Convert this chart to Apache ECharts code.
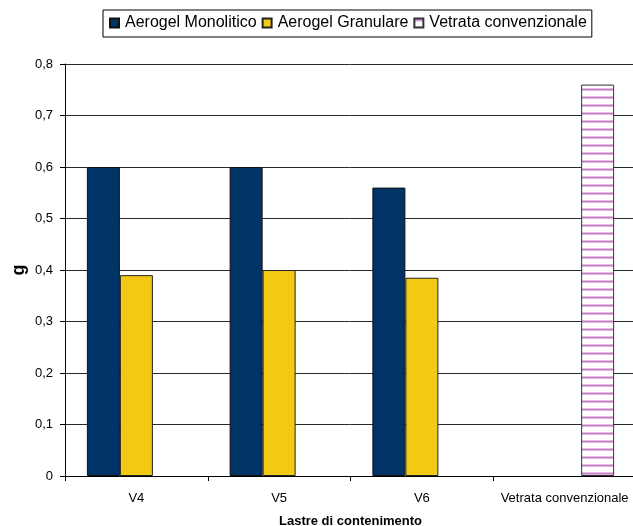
<!DOCTYPE html>
<html>
<head>
<meta charset="utf-8">
<script src="https://cdn.jsdelivr.net/npm/echarts@6/dist/echarts.min.js"></script>
<style>
  html, body { margin: 0; padding: 0; background: #fff; }
  #chart { width: 633px; height: 526px; }
</style>
</head>
<body>
<div id="chart"></div>
<script>
// Categories and values (solar factor g)
const categories = ['V4', 'V5', 'V6', 'Vetrata convenzionale'];
const seriesNames = ['Aerogel Monolitico', 'Aerogel Granulare', 'Vetrata convenzionale'];
const monolitico = [0.6, 0.6, 0.56, null];
const granulare = [0.39, 0.4, 0.385, null];
const vetrata = [null, null, null, 0.76];
const yTicks = { min: 0, max: 0.8, step: 0.1 };

// Horizontal pink stripes on white for the conventional glazing bar
function stripePattern() {
  const c = document.createElement('canvas');
  c.width = 8; c.height = 8;
  const ctx = c.getContext('2d');
  ctx.fillStyle = '#ffffff';
  ctx.fillRect(0, 0, 8, 8);
  ctx.fillStyle = '#e6bde2';
  ctx.fillRect(0, 0, 8, 1);
  ctx.fillStyle = '#c97ec3';
  ctx.fillRect(0, 1, 8, 1);
  ctx.fillStyle = '#e2b2de';
  ctx.fillRect(0, 2, 8, 1);
  return { image: c, repeat: 'repeat' };
}

const FONT = 'Liberation Sans, Arial, sans-serif';
const chart = echarts.init(document.getElementById('chart'), null, { renderer: 'canvas' });

const barCommon = {
  type: 'bar',
  barWidth: 33,
  barGap: '0%',
  animation: false
};

chart.setOption({
  backgroundColor: '#ffffff',
  animation: false,
  textStyle: { fontFamily: FONT },
  legend: {
    data: seriesNames,
    left: 103,
    top: 10,
    padding: [5, 5, 6, 6],
    borderColor: '#000',
    borderWidth: 1,
    itemWidth: 9,
    itemHeight: 9,
    itemGap: 5,
    icon: 'rect',
    textStyle: { fontFamily: FONT, fontSize: 16, color: '#000', padding: [0, 0, 0, 1] }
  },
  grid: {
    left: 65, top: 64, width: 571, height: 412,
    containLabel: false,
    outerBoundsMode: 'none'
  },
  xAxis: {
    type: 'category',
    data: categories,
    name: 'Lastre di contenimento',
    nameLocation: 'middle',
    nameGap: 39,
    nameMoveOverlap: false,
    nameTextStyle: { fontFamily: FONT, fontSize: 13, fontWeight: 'bold', color: '#000' },
    axisLine: { lineStyle: { color: '#000', width: 1 } },
    axisTick: { show: true, alignWithLabel: false, interval: 0, length: 5, lineStyle: { color: '#000' } },
    axisLabel: { fontFamily: FONT, fontSize: 13, color: '#000', margin: 16, interval: 0, hideOverlap: false },
    splitLine: { show: false }
  },
  yAxis: {
    type: 'value',
    min: yTicks.min,
    max: yTicks.max,
    interval: yTicks.step,
    name: 'g',
    nameLocation: 'middle',
    nameGap: 37,
    nameMoveOverlap: false,
    nameRotate: 90,
    nameTextStyle: { fontFamily: FONT, fontSize: 18, fontWeight: 'bold', color: '#000' },
    axisLine: { show: true, lineStyle: { color: '#000', width: 1 } },
    axisTick: { show: true, length: 5, lineStyle: { color: '#000' } },
    axisLabel: {
      fontFamily: FONT, fontSize: 13, color: '#000', margin: 12,
      formatter: v => (Math.round(v * 10) / 10).toString().replace('.', ',')
    },
    splitLine: { show: true, lineStyle: { color: '#2a2a2a', width: 1 } }
  },
  series: [
    Object.assign({}, barCommon, {
      name: seriesNames[0],
      data: monolitico,
      itemStyle: { color: '#003366', borderColor: '#111', borderWidth: 1 }
    }),
    Object.assign({}, barCommon, {
      name: seriesNames[1],
      data: granulare,
      itemStyle: { color: '#f2c913', borderColor: '#222', borderWidth: 1 }
    }),
    Object.assign({}, barCommon, {
      name: seriesNames[2],
      data: vetrata,
      itemStyle: { color: stripePattern(), borderColor: '#333', borderWidth: 1 }
    })
  ]
});
</script>
</body>
</html>
